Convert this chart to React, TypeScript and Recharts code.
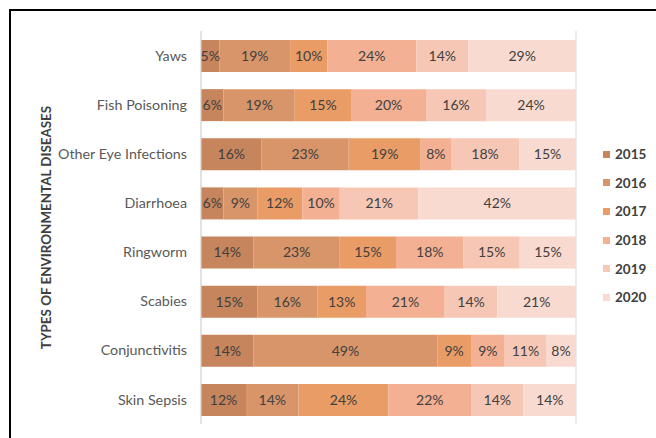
import React from "react";
import { BarChart, Bar, XAxis, YAxis, CartesianGrid, LabelList } from "recharts";

const categories = [
  "Yaws",
  "Fish Poisoning",
  "Other Eye Infections",
  "Diarrhoea",
  "Ringworm",
  "Scabies",
  "Conjunctivitis",
  "Skin Sepsis",
];
const years = ["2015", "2016", "2017", "2018", "2019", "2020"];
const v2015 = [5, 6, 16, 6, 14, 15, 14, 12];
const v2016 = [19, 19, 23, 9, 23, 16, 49, 14];
const v2017 = [10, 15, 19, 12, 15, 13, 9, 24];
const v2018 = [24, 20, 8, 10, 18, 21, 9, 22];
const v2019 = [14, 16, 18, 21, 15, 14, 11, 14];
const v2020 = [29, 24, 15, 42, 15, 21, 8, 14];
const seriesValues = [v2015, v2016, v2017, v2018, v2019, v2020];
const colors = ["#C6855D", "#D8956A", "#EA9C66", "#F3B093", "#F7C7B6", "#F9DAD0"];
const xTicks = [0, 0.2, 0.4, 0.6, 0.8, 1];

const data = categories.map((c, i) => {
  const row: Record<string, any> = { name: c };
  years.forEach((y, k) => {
    row["y" + y] = seriesValues[k][i];
  });
  return row;
});

const FONT = "Lato, 'Liberation Sans', sans-serif";

const LegendBox = () => (
  <div style={{ position: "absolute", left: 603, top: 140, fontFamily: FONT }}>
    {years.map((y, k) => (
      <div key={y} style={{ display: "flex", alignItems: "center", height: 28.6 }}>
        <div style={{ width: 7, height: 7, background: colors[k], marginRight: 5 }} />
        <span style={{ fontSize: 13.5, fontWeight: 700, color: "#404040" }}>{y}</span>
      </div>
    ))}
  </div>
);

const TitleLabel = (props: any) => {
  const vb = props.viewBox || {};
  const cx = 46;
  const cy = (vb.y ?? 31) + (vb.height ?? 393) / 2;
  return (
    <text
      x={cx}
      y={cy}
      transform={`rotate(-90, ${cx}, ${cy})`}
      textAnchor="middle"
      dominantBaseline="central"
      fontFamily={FONT}
      fontSize={13.4}
      fontWeight={700}
      fill="#404040"
    >
      TYPES OF ENVIRONMENTAL DISEASES
    </text>
  );
};

export default function App() {
  return (
    <div
      style={{
        position: "fixed",
        left: 0,
        top: 0,
        width: 656,
        height: 438,
        overflow: "hidden",
        background: "#ffffff",
      }}
    >
      <div
        style={{
          position: "absolute",
          left: 9,
          top: 9,
          width: 700,
          height: 500,
          borderLeft: "2px solid #000000",
          borderTop: "2px solid #000000",
          boxSizing: "border-box",
        }}
      />
      <div style={{ position: "absolute", left: 0, top: 0 }}>
        <BarChart
          width={656}
          height={438}
          data={data}
          layout="vertical"
          stackOffset="expand"
          margin={{ top: 31, right: 80, bottom: 14, left: 10 }}
          barSize={32}
        >
          <CartesianGrid horizontal={false} stroke="#D9D9D9" />
          <XAxis
            type="number"
            domain={[0, 1]}
            ticks={xTicks}
            tick={false}
            tickLine={false}
            axisLine={false}
            height={0}
          />
          <YAxis
            type="category"
            dataKey="name"
            width={191}
            tickLine={false}
            tickSize={0}
            tickMargin={14}
            axisLine={{ stroke: "#D9D9D9" }}
            tick={{ fontFamily: FONT, fontSize: 14.3, fill: "#595959" }}
            interval={0}
            label={<TitleLabel />}
          />
          {years.map((y, k) => (
            <Bar
              key={y}
              dataKey={"y" + y}
              name={y}
              stackId="a"
              fill={colors[k]}
              isAnimationActive={false}
            >
              <LabelList
                dataKey={"y" + y}
                position="center"
                formatter={(v: any) => v + "%"}
                style={{ fontFamily: FONT, fontSize: 14, fill: "#404040" }}
              />
            </Bar>
          ))}
        </BarChart>
      </div>
      <LegendBox />
    </div>
  );
}
